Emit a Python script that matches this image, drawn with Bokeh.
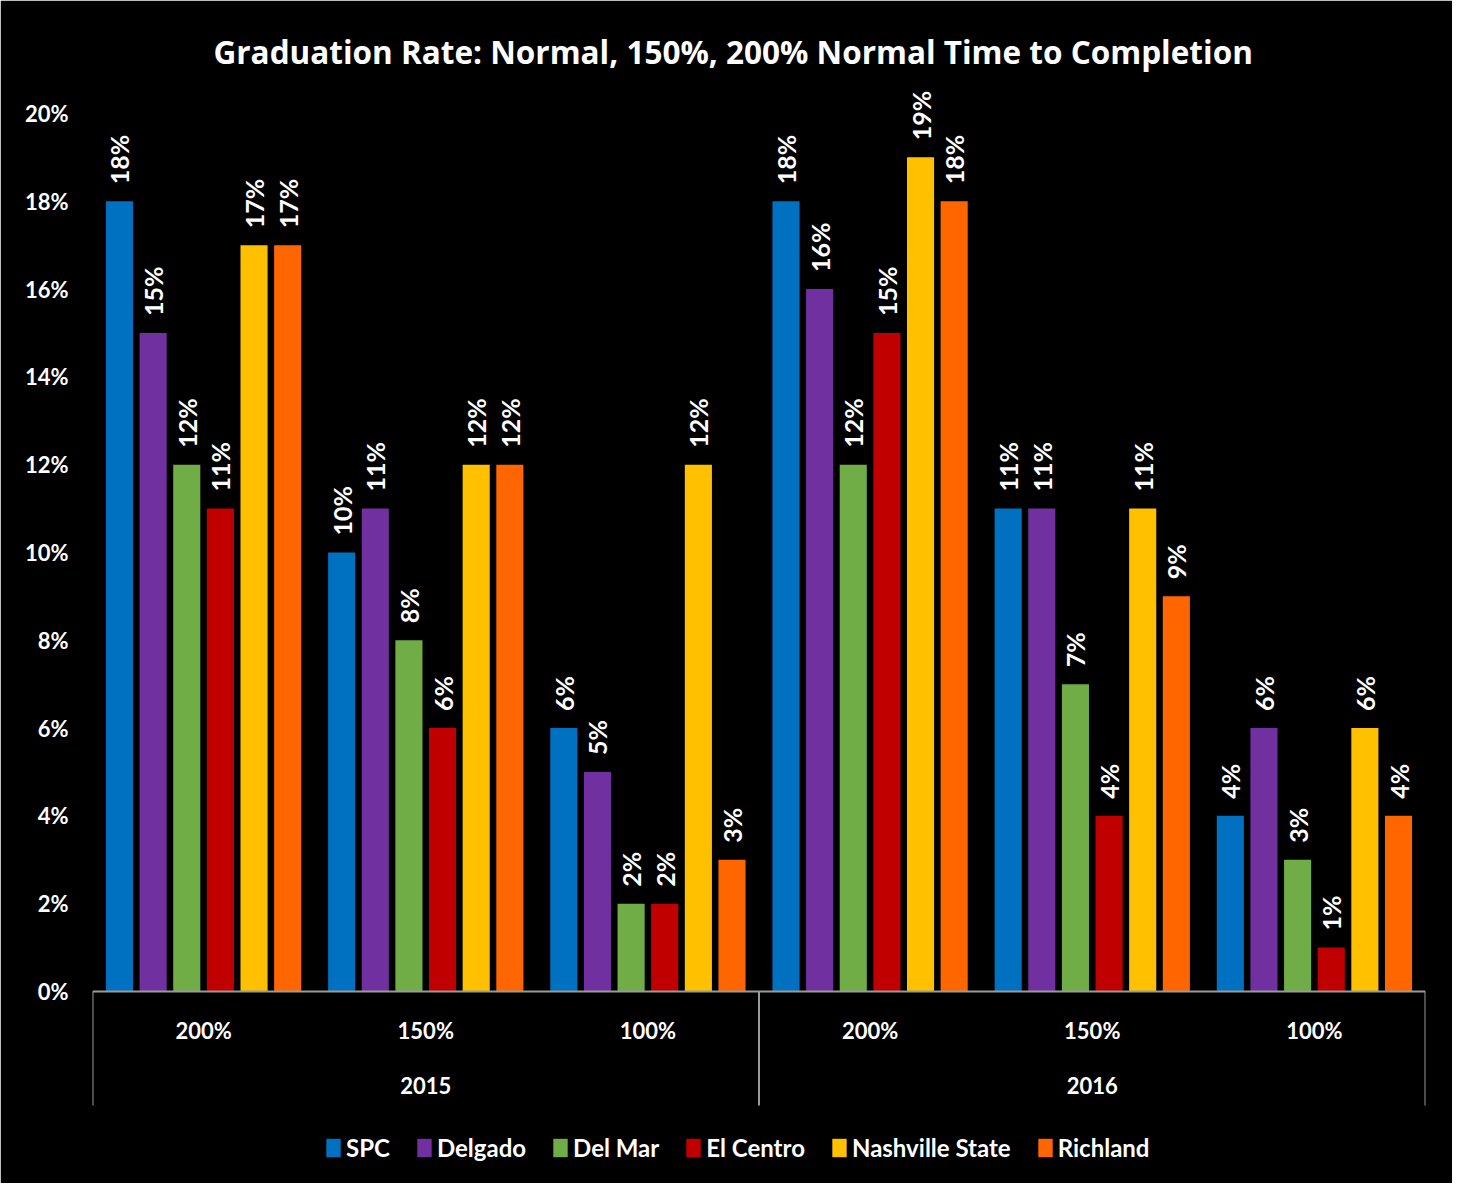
import math
from bokeh.plotting import figure
from bokeh.models import (Range1d, FixedTicker, ColumnDataSource, Legend, LegendItem,
                          PrintfTickFormatter)
from bokeh.embed import file_html
from bokeh.resources import INLINE
from bokeh.core.properties import value

# ---------------- data ----------------
years = ["2015", "2016"]
rates = ["200%", "150%", "100%"]
colleges = ["SPC", "Delgado", "Del Mar", "El Centro", "Nashville State", "Richland"]
colors = ["#0070C0", "#7030A0", "#70AD47", "#C00000", "#FFC000", "#FF6600"]

# order: 2015-200%, 2015-150%, 2015-100%, 2016-200%, 2016-150%, 2016-100%
spc = [18, 10, 6, 18, 11, 4]
delgado = [15, 11, 5, 16, 11, 6]
del_mar = [12, 8, 2, 12, 7, 3]
el_centro = [11, 6, 2, 15, 4, 1]
nashville_state = [17, 12, 12, 19, 11, 6]
richland = [17, 12, 3, 18, 9, 4]
series = [spc, delgado, del_mar, el_centro, nashville_state, richland]

y_ticks = [0, 2, 4, 6, 8, 10, 12, 14, 16, 18, 20]

TITLE = "Graduation Rate: Normal, 150%, 200% Normal Time to Completion"
FONT = "Lato"

# ---------------- layout ----------------
n_groups = len(years) * len(rates)
step = 0.1514
bar_w = 0.122

p = figure(width=1452, height=1183, output_backend="svg", toolbar_location=None,
           x_range=Range1d(0, n_groups), y_range=Range1d(-4.374, 20.75),
           x_axis_type=None, min_border_left=92, min_border_right=27,
           min_border_top=80, min_border_bottom=0)
p.background_fill_color = "black"
p.border_fill_color = "black"
p.outline_line_color = "black"
p.outline_line_width = 3
p.xgrid.visible = False
p.ygrid.visible = False

p.title.text = TITLE
p.title.text_color = "white"
p.title.text_font = "Open Sans"
p.title.text_font_size = "31.5px"
p.title.text_font_style = "bold"
p.title.align = "left"
p.title.offset = 121
p.title.standoff = 15

yax = p.yaxis[0]
yax.ticker = FixedTicker(ticks=y_ticks)
yax.formatter = PrintfTickFormatter(format="%d%%")
yax.axis_line_color = None
yax.major_tick_line_color = None
yax.minor_tick_line_color = None
yax.major_tick_out = 0
yax.major_tick_in = 0
yax.major_label_standoff = 24
yax.major_label_text_color = "white"
yax.major_label_text_font = FONT
yax.major_label_text_font_style = "bold"
yax.major_label_text_font_size = "22px"

items = []
for i, (name, vals, col) in enumerate(zip(colleges, series, colors)):
    xs = [g + 0.5 + (i - 2.5) * step for g in range(n_groups)]
    src = ColumnDataSource(dict(x=xs, top=vals, lab=[f"{v}%" for v in vals]))
    r = p.vbar(x="x", top="top", width=bar_w, bottom=0, source=src,
               fill_color=col, line_color=None)
    p.text(x="x", y="top", text="lab", source=src, angle=math.pi / 2,
           text_align="left", text_baseline="middle", y_offset=-17,
           text_color="white", text_font=value(FONT), text_font_style="bold",
           text_font_size="25px")
    items.append(LegendItem(label=name, renderers=[r]))

# category axis drawn manually
axis_col = "#9A9A9A"
p.segment(x0=[0], y0=[0], x1=[n_groups], y1=[0], line_color=axis_col, line_width=2)
sep_x = [k * len(rates) for k in range(len(years) + 1)]
p.segment(x0=sep_x, y0=[0] * len(sep_x), x1=sep_x, y1=[-2.6] * len(sep_x),
          line_color=axis_col, line_width=2)

rate_labels = [r for _ in years for r in rates]
p.text(x=[g + 0.5 for g in range(n_groups)], y=[-0.89] * n_groups, text=rate_labels,
       text_align="center", text_baseline="middle", text_color="white",
       text_font=value(FONT), text_font_style="bold", text_font_size="22px")
p.text(x=[k * len(rates) + len(rates) / 2 for k in range(len(years))],
       y=[-2.14] * len(years), text=years,
       text_align="center", text_baseline="middle", text_color="white",
       text_font=value(FONT), text_font_style="bold", text_font_size="22px")

legend = Legend(items=items, orientation="horizontal", location=(232, 21),
                padding=0, margin=0, spacing=25, label_standoff=4,
                glyph_width=18, glyph_height=23, label_height=23,
                background_fill_alpha=0, border_line_alpha=0,
                label_text_color="white", label_text_font=FONT,
                label_text_font_style="bold", label_text_font_size="24px")
p.add_layout(legend, "center")

open("out.html", "w").write(file_html(p, INLINE))
